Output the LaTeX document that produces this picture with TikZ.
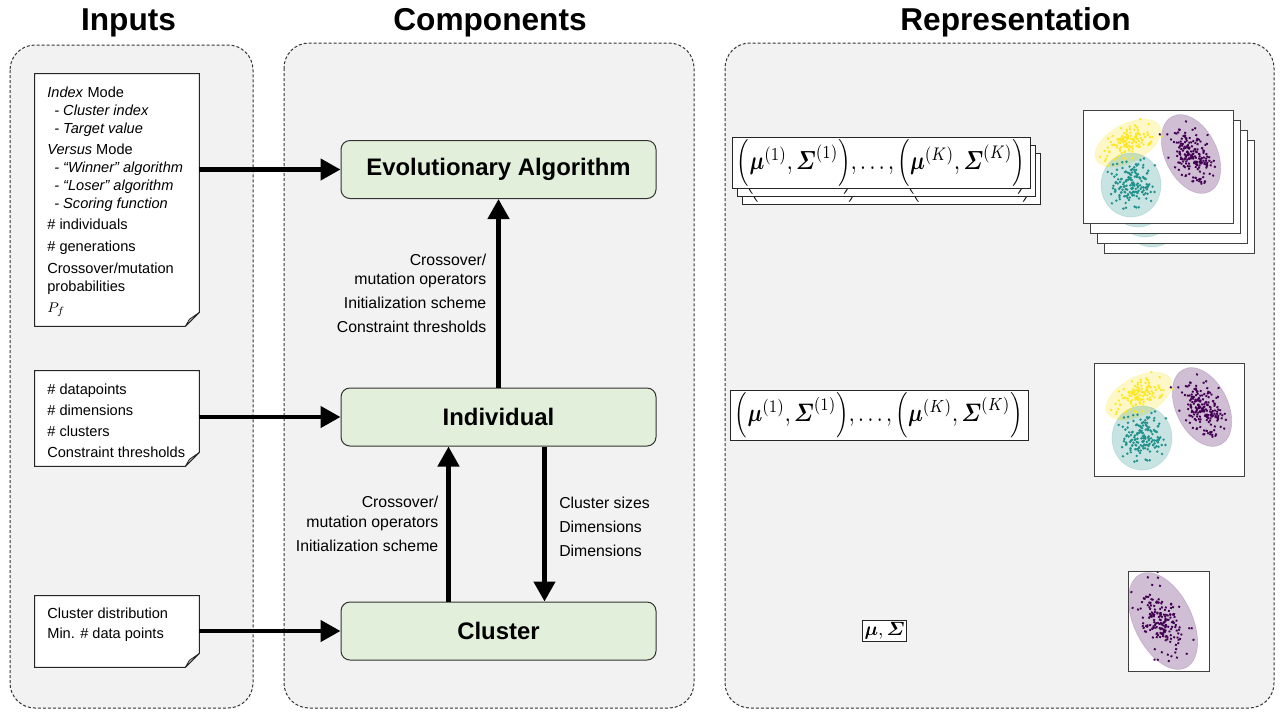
\documentclass[tikz,border=0pt]{standalone}
\usepackage{amsmath,amssymb}
\usepackage[no-math]{fontspec}
\setmainfont{Liberation Sans}
\usepackage{graphicx}
\usepackage{xcolor}
\usepackage{tikz}
\usetikzlibrary{arrows.meta,positioning,calc}

\definecolor{panelgray}{HTML}{F2F2F2}
\definecolor{compgreen}{HTML}{E2EFDA}
\definecolor{vyellow}{HTML}{FDE725}
\definecolor{vteal}{HTML}{21918C}
\definecolor{vpurple}{HTML}{440154}

\newdimen\px
\px=0.02cm

\newcommand{\gmmparams}{$\Bigl(\boldsymbol{\mu}^{(1)},\boldsymbol{\varSigma}^{(1)}\Bigr),\dots,\Bigl(\boldsymbol{\mu}^{(K)},\boldsymbol{\varSigma}^{(K)}\Bigr)$}

% cluster shading: centre x, centre y, semi-axes, angle, colour
\newcommand{\gaussshade}[6]{%
  \begin{scope}[shift={(#1,#2)}, rotate=#5]
    \fill[#6, fill opacity=0.25, draw=#6, draw opacity=0.15] (0,0) ellipse (#3 and #4);
  \end{scope}}
% cluster points: same arguments, then number of points
\newcommand{\gausscloud}[7]{%
  \begin{scope}[shift={(#1,#2)}, rotate=#5]
    \foreach \k in {1,...,#7} {
      \pgfmathsetmacro{\ptx}{0.34*#3*(rand+rand+rand)}
      \pgfmathsetmacro{\pty}{0.34*#4*(rand+rand+rand)}
      \fill[#6] (\ptx,\pty) circle (1.35);
    }
  \end{scope}}

\tikzset{
  plotframe/.style={draw=black!75, line width=1\px},
  plotpanel/.pic={
    \pgfmathsetseed{11}
    \fill[white] (0,0) rectangle (150,113);
    \begin{scope}
      \clip (0,0) rectangle (150,113);
      \gaussshade{45}{33}{36}{19}{28}{vyellow}
      \gaussshade{48}{75}{30}{32}{0}{vteal}
      \gaussshade{108}{44}{42}{26}{-64}{vpurple}
      \gausscloud{45}{33}{36}{19}{28}{vyellow}{130}
      \gausscloud{48}{75}{30}{32}{0}{vteal}{160}
      \gausscloud{108}{44}{42}{26}{-64}{vpurple}{190}
    \end{scope}
    \draw[plotframe] (0,0) rectangle (150,113);
  }
}

\begin{document}
\begin{tikzpicture}[x=0.02cm, y=-0.02cm,
  panel/.style={draw=black!80, fill=panelgray, dash pattern=on 3\px off 2\px, line width=1\px, rounded corners=25\px},
  header/.style={font=\fontsize{18}{21}\selectfont\bfseries, anchor=base, inner sep=0},
  comp/.style={draw=black!80, fill=compgreen, line width=1\px, rounded corners=9\px, minimum width=315\px, minimum height=58\px, font=\fontsize{13.6}{16}\selectfont\bfseries},
  notebox/.style={minimum width=164\px, inner sep=0},
  notepath/.style={draw=black!85, fill=white, line width=1\px},
  notefold/.style={draw=black!85, fill=gray!45, line width=0.8\px, line join=round},
  notetext/.style={align=left, inner sep=0, anchor=north west, font=\fontsize{8.3}{10.2}\selectfont},
  lbl/.style={inner sep=0, font=\fontsize{9}{11.3}\selectfont},
  bigarrow/.style={line width=0.09cm, -{Triangle[length=0.4cm, width=0.42cm]}},
  formula/.style={draw=black!85, fill=white, line width=0.8\px, inner xsep=5\px, inner ysep=2\px}
]
  \useasboundingbox (0,0) rectangle (1281,711);
  \fill[white] (0,0) rectangle (1281,711);

  % Panels and titles
  \draw[panel] (10,45) rectangle (253,708);
  \draw[panel] (284,43) rectangle (694,708);
  \draw[panel] (725,43) rectangle (1274,708);
  \node[header] (tin) at (128.5,30) {Inputs};
  \node[header] (tcomp) at (490,30) {Components};
  \node[header] (trep) at (1015.5,30) {Representation};

  % Input sheets
  \node[notebox, minimum height=252\px] (in1) at (117,200) {};
  \node[notebox, minimum height=95\px] (in2) at (117,418.5) {};
  \node[notebox, minimum height=71\px] (in3) at (117,631.5) {};
  \foreach \n in {in1,in2,in3} {
    \draw[notepath] (\n.north west) -- (\n.north east) -- ([yshift=14\px]\n.south east)
      -- ([xshift=-14\px]\n.south east) -- (\n.south west) -- cycle;
    \draw[notefold] ([xshift=-14\px]\n.south east) -- ([xshift=-10\px, yshift=7\px]\n.south east)
      -- ([yshift=14\px]\n.south east) -- cycle;
  }
  \node[notetext] (in1txt) at (47,87) {\textit{Index} Mode\\
    \hspace*{7\px}\textit{- Cluster index}\\
    \hspace*{7\px}\textit{- Target value}\\[3\px]
    \textit{Versus} Mode\\
    \hspace*{7\px}\textit{- “Winner” algorithm}\\
    \hspace*{7\px}\textit{- “Loser” algorithm}\\
    \hspace*{7\px}\textit{- Scoring function}\\[3\px]
    \# individuals\\[4\px]
    \# generations\\[4\px]
    Crossover/mutation\\
    probabilities\\[3\px]
    $P_f$};
  \node[notetext, font=\fontsize{8.3}{11.9}\selectfont] (in2txt) at (47,384) {\# datapoints\\ \# dimensions\\ \# clusters\\ Constraint thresholds};
  \node[notetext, font=\fontsize{8.3}{11.3}\selectfont] (in3txt) at (47,608) {Cluster distribution\\ Min. \# data points};

  % Components
  \node[comp] (ea) at (498.5,169.5) {Evolutionary Algorithm};
  \node[comp] (ind) at (498.5,417) {Individual};
  \node[comp] (cl) at (498.5,631) {Cluster};

  \draw[bigarrow] (in1.east |- ea.west) -- (ea.west);
  \draw[bigarrow] (in2.east |- ind.west) -- (ind.west);
  \draw[bigarrow] (in3.east |- cl.west) -- (cl.west);

  \draw[bigarrow] (ind) -- (ea) node[midway, left=10\px, lbl, align=right]
    {Crossover/\\mutation operators\\[4\px]Initialization scheme\\[4\px]Constraint thresholds};
  \draw[bigarrow] ([xshift=-50\px]cl.north) -- ([xshift=-50\px]ind.south)
    node[midway, left=8\px, lbl, align=right] {Crossover/\\mutation operators\\[4\px]Initialization scheme};
  \draw[bigarrow] ([xshift=46\px]ind.south) -- ([xshift=46\px]cl.north)
    node[midway, right=12.5\px, lbl, align=left, yshift=-3\px] {Cluster sizes\\[4\px]Dimensions\\[4\px]Dimensions};

  % Representation: parameters
  \foreach \d in {2,1} {
    \node[formula] (stack\d) at (881+5*\d,163+8*\d) {\resizebox{288\px}{30\px}{\gmmparams}};
  }
  \node[formula] (stack0) at (881,163) {\resizebox{288\px}{30\px}{\gmmparams}};
  \node[formula] (single) at (879,415.5) {\resizebox{288\px}{29\px}{\gmmparams}};
  \node[formula, inner sep=2\px] (musig) at (884.5,630.5) {\resizebox{40\px}{!}{$\boldsymbol{\mu},\boldsymbol{\varSigma}$}};

  % Representation: scatter plots
  \foreach \d in {3,2,1,0} {
    \pic at (1083+7*\d,110+10*\d) {plotpanel};
  }
  \pic at (1094,363) {plotpanel};
  \begin{scope}[shift={(1128,571)}]
    \pgfmathsetseed{5}
    \fill[white] (0,0) rectangle (81,100);
    \begin{scope}
      \clip (0,0) rectangle (81,100);
      \gaussshade{35}{50}{52}{29}{-64}{vpurple}
      \gausscloud{35}{50}{52}{29}{-64}{vpurple}{180}
    \end{scope}
    \draw[plotframe] (0,0) rectangle (81,100);
  \end{scope}
\end{tikzpicture}
\end{document}
